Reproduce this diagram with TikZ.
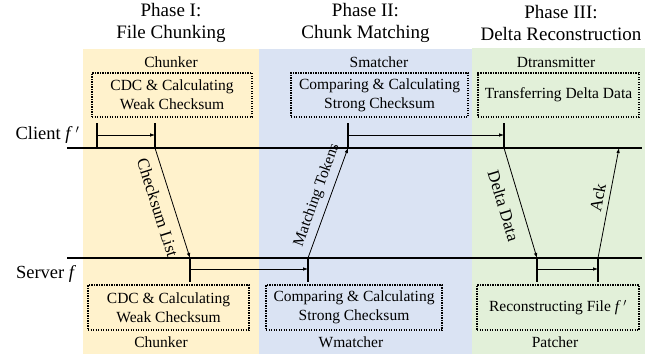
\documentclass[tikz,border=0pt]{standalone}
\usepackage{fontspec}
\setmainfont{Liberation Serif}
\usetikzlibrary{arrows.meta,calc}
\definecolor{phaseIbg}{HTML}{FFF2CC}
\definecolor{phaseIIbg}{HTML}{DAE3F3}
\definecolor{phaseIIIbg}{HTML}{E2F0D9}
\begin{document}
\begin{tikzpicture}[x=1pt,y=-1pt,
  timeline/.style={line width=2.6pt},
  tickmark/.style={line width=1.8pt},
  msg/.style={line width=0.8pt,-{Latex[length=5pt,width=3.6pt]}},
  taskbox/.style={draw,line width=1.4pt,dash pattern=on 1.4pt off 1.1pt,
    align=center,inner sep=0pt,font=\fontsize{15.5}{19}\selectfont},
  role/.style={font=\fontsize{15.5}{19}\selectfont},
  phase/.style={font=\fontsize{19}{22}\selectfont,align=center},
  host/.style={font=\fontsize{18.5}{22}\selectfont,anchor=base west},
  msglabel/.style={font=\fontsize{17}{20}\selectfont,sloped,anchor=center,inner sep=0pt}
]
\useasboundingbox (0,0) rectangle (653,355);

% phase backgrounds
\fill[phaseIbg]   (83,49)  rectangle (259,354);
\fill[phaseIIbg]  (259,49) rectangle (472,354);
\fill[phaseIIIbg] (472,48) rectangle (645,354);

% phase titles
\node[phase] (t1) at (171,23)   {Phase I:\\File Chunking};
\node[phase] (t2) at (365.5,23) {Phase II:\\Chunk Matching};
\node[phase] (t3) at (561,23)   {Phase III:\\Delta Reconstruction};

% client side modules
\node[role] (rc1) at (171,62) {Chunker};
\node[role] (rc2) at (379,62) {Smatcher};
\node[role] (rc3) at (556,62) {Dtransmitter};
\node[taskbox,minimum width=160pt,minimum height=44pt] (bc1) at (172,95)
  {CDC \& Calculating\\Weak Checksum};
\node[taskbox,minimum width=177pt,minimum height=44pt] (bc2) at (379.5,95)
  {Comparing \& Calculating\\Strong Checksum};
\node[taskbox,minimum width=161pt,minimum height=44pt] (bc3) at (558.5,95)
  {Transferring Delta Data};

% server side modules
\node[taskbox,minimum width=161pt,minimum height=45pt] (bs1) at (168.5,307.5)
  {CDC \& Calculating\\Weak Checksum};
\node[taskbox,minimum width=176pt,minimum height=45pt] (bs2) at (354,307.5)
  {Comparing \& Calculating\\Strong Checksum};
\node[taskbox,minimum width=162pt,minimum height=45pt] (bs3) at (558,307.5)
  {Reconstructing File \textit{f}\,$'$};
\node[role] (rs1) at (161,342) {Chunker};
\node[role] (rs2) at (351,342) {Wmatcher};
\node[role] (rs3) at (555,342) {Patcher};

% hosts and timelines
\node[host] (client) at (12,140) {Client \textit{f}\,$'$};
\node[host] (server) at (12.5,279) {Server \textit{f}};
\coordinate (cl) at (67,148);  \coordinate (cr) at (642,148);
\coordinate (sl) at (67,258);  \coordinate (sr) at (642,258);
\draw[timeline] (cl) -- (cr);
\draw[timeline] (sl) -- (sr);

% event points on the client timeline
\coordinate (c1) at (97,148);   \coordinate (c1t) at (97,123);
\coordinate (c2) at (155,148);  \coordinate (c2t) at (155,123);
\coordinate (c3) at (348,148);  \coordinate (c3t) at (348,123);
\coordinate (c4) at (504,148);  \coordinate (c4t) at (504,123);
\coordinate (c5) at (619,148);
% event points on the server timeline
\coordinate (s1) at (190,258);  \coordinate (s1b) at (190,282);
\coordinate (s2) at (308,258);  \coordinate (s2b) at (308,282);
\coordinate (s3) at (537,258);  \coordinate (s3b) at (537,282);
\coordinate (s4) at (598,258);  \coordinate (s4b) at (598,282);

\foreach \p in {c1,c2,c3,c4} \draw[tickmark] (\p) -- (\p t);
\foreach \p in {s1,s2,s3,s4} \draw[tickmark] (\p) -- (\p b);

% local processing spans
\draw[msg] ([yshift=13pt]c1) -- ([yshift=13pt]c2);
\draw[msg] ([yshift=13pt]c3) -- ([yshift=13pt]c4);
\draw[msg] ([yshift=-11pt]s1) -- ([yshift=-11pt]s2);
\draw[msg] ([yshift=-11pt]s3) -- ([yshift=-11pt]s4);

% messages between client and server
\draw[msg] (c2) -- (s1);
\draw[msg] (s2) -- (c3);
\draw[msg] (c4) -- (s3);
\draw[msg] (s4) -- (c5);

% message labels, set on lines parallel to the messages (left of each)
\path ($(c2)!15.5pt!-90:(s1)$) -- ($(s1)!15.5pt!90:(c2)$)
  node[msglabel,pos=0.5] {Checksum List};
\path ($(s2)!13pt!90:(c3)$) -- ($(c3)!13pt!-90:(s2)$)
  node[msglabel,pos=0.53,font=\fontsize{15.5}{19}\selectfont] {Matching Tokens};
\path ($(c4)!17pt!-90:(s3)$) -- ($(s3)!17pt!90:(c4)$)
  node[msglabel,pos=0.48] {Delta Data};
\path ($(s4)!11.5pt!90:(c5)$) -- ($(c5)!11.5pt!-90:(s4)$)
  node[msglabel,pos=0.53] {Ack};
\end{tikzpicture}
\end{document}
